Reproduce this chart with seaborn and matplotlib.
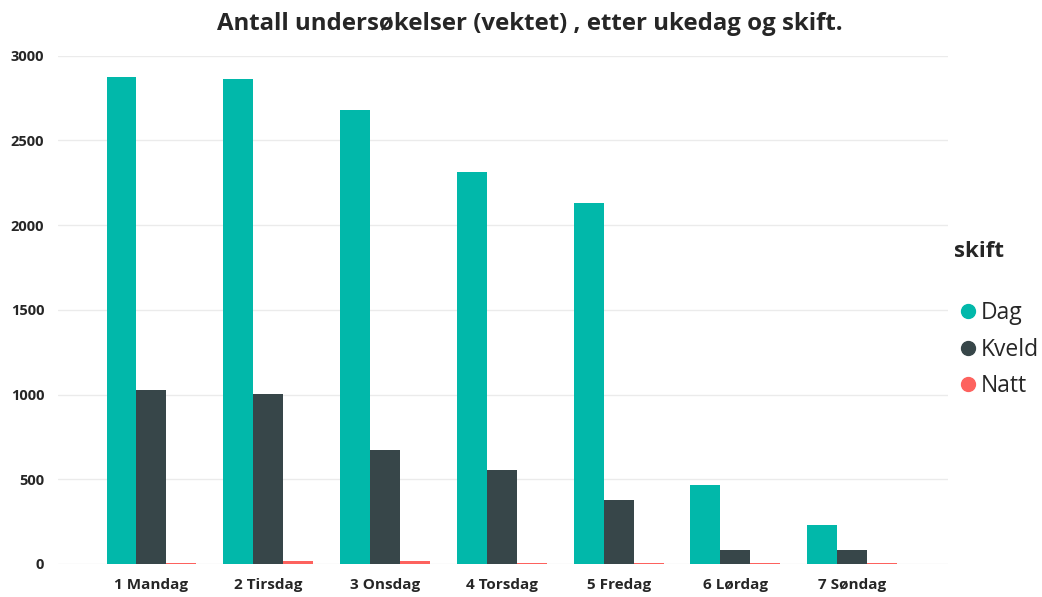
import matplotlib.pyplot as plt
import seaborn as sns
import pandas as pd
from matplotlib.lines import Line2D

# data
days = ['1 Mandag', '2 Tirsdag', '3 Onsdag', '4 Torsdag', '5 Fredag', '6 Lørdag', '7 Søndag']
dag = [2876, 2865, 2680, 2316, 2130, 466, 229]
kveld = [1028, 1003, 672, 557, 375, 85, 84]
natt = [8, 15, 18, 8, 8, 7, 7]
shifts = ['Dag', 'Kveld', 'Natt']
colors = ['#01B8AA', '#374649', '#FD625E']

df = pd.DataFrame({'ukedag': days * 3,
                   'skift': ['Dag'] * 7 + ['Kveld'] * 7 + ['Natt'] * 7,
                   'antall': dag + kveld + natt})

sns.set_style('white')
plt.rcParams['font.family'] = ['Open Sans', 'DejaVu Sans']

fig = plt.figure(figsize=(10.42, 5.97), dpi=100)
ax = fig.add_axes([0.0557, 0.0553, 0.854, 0.8514])

sns.barplot(data=df, x='ukedag', y='antall', hue='skift', hue_order=shifts,
            palette=colors, width=0.77, saturation=1, errorbar=None, ax=ax,
            legend=False, linewidth=0)

ax.set_xlim(-0.8, 6.82)
ax.set_ylim(0, 3000)
ax.set_yticks(range(0, 3001, 500))
ax.yaxis.grid(True, color='#EBEBEB', linewidth=1)
ax.set_axisbelow(True)
sns.despine(ax=ax, left=True, bottom=True)
ax.tick_params(axis='y', length=0, labelsize=10.5, pad=10)
ax.tick_params(axis='x', length=0, labelsize=11, pad=10)
for lab in ax.get_xticklabels() + ax.get_yticklabels():
    lab.set_fontweight('bold')
ax.set_xlabel('')
ax.set_ylabel('')

fig.suptitle('Antall undersøkelser (vektet) , etter ukedag og skift.',
             x=0.508, y=0.98, fontsize=17.3, fontweight='bold')

fig.text(0.916, 0.578, 'skift', fontsize=16, fontweight='bold', va='center')
handles = [Line2D([], [], marker='o', linestyle='', color=c, markersize=10) for c in colors]
fig.legend(handles, shifts, loc='center left', bbox_to_anchor=(0.907, 0.414),
           frameon=False, fontsize=16.5, handletextpad=0.05, labelspacing=0.55,
           handlelength=1.0, borderpad=0)

fig.savefig('out.png', dpi=100)
